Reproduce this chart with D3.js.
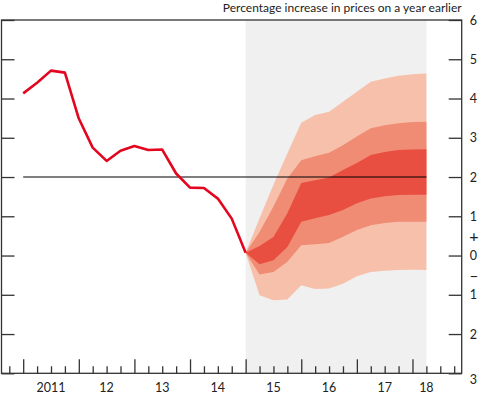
<!DOCTYPE html>
<html>
<head>
<meta charset="utf-8">
<script src="https://cdn.jsdelivr.net/npm/d3@7"></script>
<style>
  body { margin: 0; background: #fff; }
  svg text { font-family: Lato, "Open Sans", sans-serif; fill: #222; }
  .axis .domain { display: none; }
  .axis line { stroke: #333; stroke-width: 1.3; }
</style>
</head>
<body>
<svg id="chart"></svg>
<script>
// CPI inflation, quarterly from 2011 Q1
const cpiStart = 2011;
const cpi = [4.13, 4.40, 4.71, 4.66, 3.49, 2.75, 2.41, 2.67, 2.79, 2.69, 2.70, 2.09, 1.73, 1.72, 1.45, 0.94, 0.07];

// fan chart bands, quarterly from 2015 Q1
const fanStart = 2015;
const fanEnd = 2018.25;
const fanHi3 = [0.07, 0.95, 1.80, 2.60, 3.38, 3.58, 3.66, 3.92, 4.17, 4.43, 4.51, 4.58, 4.62, 4.64];
const fanHi2 = [0.07, 0.60, 1.25, 1.96, 2.43, 2.53, 2.62, 2.81, 3.03, 3.24, 3.32, 3.37, 3.40, 3.41];
const fanHi1 = [0.07, 0.24, 0.47, 1.08, 1.85, 1.92, 1.99, 2.18, 2.36, 2.56, 2.64, 2.69, 2.70, 2.71];
const fanLo1 = [0.07, -0.22, -0.12, 0.22, 0.86, 0.95, 1.03, 1.16, 1.33, 1.45, 1.51, 1.54, 1.55, 1.55];
const fanLo2 = [0.07, -0.48, -0.42, -0.16, 0.26, 0.29, 0.32, 0.48, 0.65, 0.77, 0.83, 0.86, 0.86, 0.86];
const fanLo3 = [0.07, -1.01, -1.14, -1.12, -0.76, -0.85, -0.84, -0.72, -0.53, -0.42, -0.39, -0.37, -0.36, -0.37];

const yearLabels = ['2011', '12', '13', '14', '15', '16', '17', '18'];
const yearValues = [2011, 2012, 2013, 2014, 2015, 2016, 2017, 2018];
const yTicks = [-3, -2, -1, 0, 1, 2, 3, 4, 5, 6];
const target = 2;
const title = 'Percentage increase in prices on a year earlier';

const width = 480, height = 395;
const margin = {top: 20, right: 18.3, bottom: 21.7, left: 1.5};

const svg = d3.select('#chart')
    .attr('width', width)
    .attr('height', height);

const x = d3.scaleLinear()
    .domain([2010.61, 2018.885])
    .range([margin.left, width - margin.right]);
const y = d3.scaleLinear()
    .domain([-3, 6])
    .range([height - margin.bottom, margin.top]);

// projection background
svg.append('rect')
    .attr('x', x(fanStart))
    .attr('y', y(6))
    .attr('width', x(fanEnd) - x(fanStart))
    .attr('height', y(-3) - y(6))
    .attr('fill', '#f0f0f0');

// fan bands
const fanT = i => fanStart + i / 4;
const bands = [
    {lo: fanLo3, hi: fanHi3, color: '#f7c0ab'},
    {lo: fanLo2, hi: fanHi2, color: '#f08b74'},
    {lo: fanLo1, hi: fanHi1, color: '#e94f41'}
];
const area = d3.area()
    .x(d => x(d.t))
    .y0(d => y(d.lo))
    .y1(d => y(d.hi));
svg.selectAll('.band')
    .data(bands)
    .join('path')
    .attr('class', 'band')
    .attr('fill', d => d.color)
    .attr('d', b => area(b.lo.map((v, i) => ({t: fanT(i), lo: v, hi: b.hi[i]}))));

// inflation target line
svg.append('line')
    .attr('x1', x(cpiStart))
    .attr('x2', x(fanEnd))
    .attr('y1', y(target))
    .attr('y2', y(target))
    .attr('stroke', '#000')
    .attr('stroke-width', 1.1);

// CPI line
const line = d3.line()
    .x((d, i) => x(cpiStart + i / 4))
    .y(d => y(d));
svg.append('path')
    .datum(cpi)
    .attr('d', line)
    .attr('fill', 'none')
    .attr('stroke', '#e3061f')
    .attr('stroke-width', 2.6)
    .attr('stroke-linejoin', 'round');

// right axis
const yAxisR = d3.axisRight(y)
    .tickValues(yTicks)
    .tickSize(-13)
    .tickPadding(8)
    .tickFormat(d => Math.abs(d));
svg.append('g')
    .attr('class', 'axis')
    .attr('transform', `translate(${width - margin.right},0)`)
    .call(yAxisR)
    .call(g => g.selectAll('text')
        .attr('font-size', 12.5)
        .attr('dy', d => d === -3 ? '0.85em' : '0.32em'));

// sign markers
svg.selectAll('.sign')
    .data([{v: 0.5, s: '+'}, {v: -0.5, s: '\u2013'}])
    .join('text')
    .attr('class', 'sign')
    .attr('x', width - margin.right + 7.5)
    .attr('y', d => y(d.v))
    .attr('dy', '0.35em')
    .attr('font-size', 16)
    .text(d => d.s);

// left axis ticks
svg.append('g')
    .attr('class', 'axis')
    .attr('transform', `translate(${margin.left},0)`)
    .call(d3.axisLeft(y).tickValues(yTicks).tickSize(-13).tickFormat(''));

// bottom axis: major ticks on years, minor on quarters
const quarters = d3.range(2010.75, 2018.8, 0.25).filter(t => t % 1 !== 0);
svg.append('g')
    .attr('class', 'axis')
    .attr('transform', `translate(0,${height - margin.bottom})`)
    .call(d3.axisBottom(x).tickValues(quarters).tickSize(-7).tickFormat(''));
svg.append('g')
    .attr('class', 'axis')
    .attr('transform', `translate(0,${height - margin.bottom})`)
    .call(d3.axisBottom(x).tickValues(yearValues).tickSize(-14).tickFormat(''));

svg.selectAll('.year-label')
    .data(yearValues)
    .join('text')
    .attr('class', 'year-label')
    .attr('x', d => x(Math.min(d + 0.5, fanEnd)))
    .attr('y', height - 3)
    .attr('text-anchor', 'middle')
    .attr('font-size', 12.5)
    .text((d, i) => yearLabels[i]);

// frame
svg.append('rect')
    .attr('x', margin.left)
    .attr('y', margin.top)
    .attr('width', width - margin.left - margin.right)
    .attr('height', height - margin.top - margin.bottom)
    .attr('fill', 'none')
    .attr('stroke', '#333')
    .attr('stroke-width', 1.3);

svg.append('text')
    .attr('x', width - margin.right)
    .attr('y', 12)
    .attr('text-anchor', 'end')
    .attr('font-size', 12)
    .text(title);
</script>
</body>
</html>
